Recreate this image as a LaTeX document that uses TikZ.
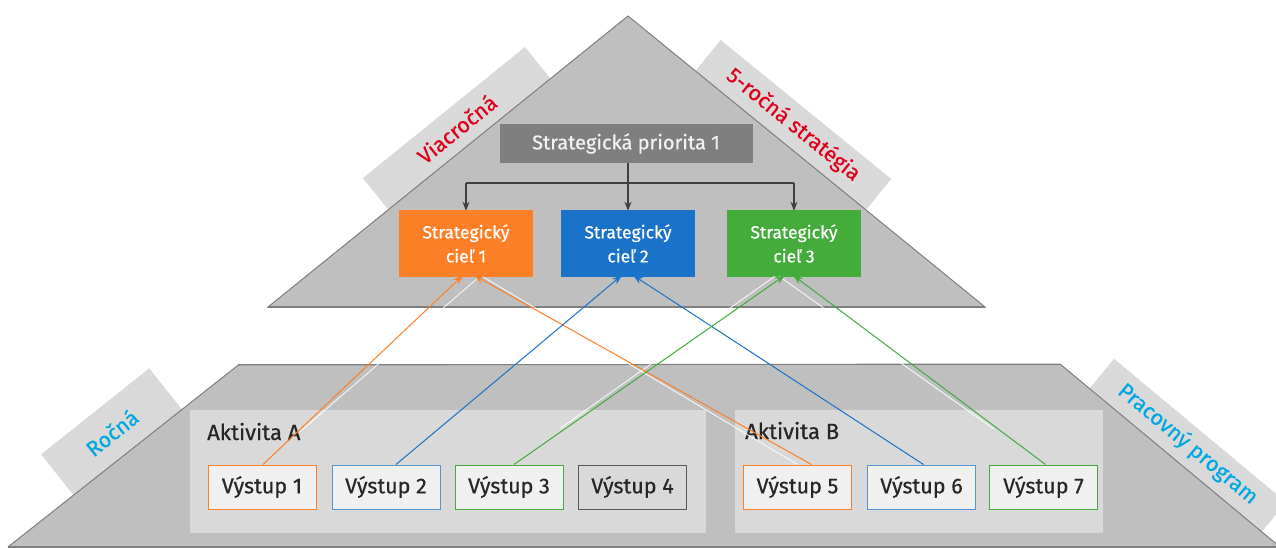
\documentclass[tikz,border=0pt]{standalone}
\usepackage{fontspec}
\setmainfont{Fira Sans}[FakeBold=0.5]
\usetikzlibrary{arrows.meta,calc}
\definecolor{trifill}{HTML}{BFBFBF}
\definecolor{edgegray}{HTML}{7F7F7F}
\definecolor{bandgray}{HTML}{D9D9D9}
\definecolor{priofill}{HTML}{7F7F7F}
\definecolor{arrgray}{HTML}{404040}
\definecolor{gorange}{HTML}{FD7F27}
\definecolor{gblue}{HTML}{1A73C8}
\definecolor{ggreen}{HTML}{43AC3A}
\definecolor{lred}{HTML}{E0001B}
\definecolor{lcyan}{HTML}{00A8E2}
\definecolor{txt}{HTML}{262626}
\definecolor{outfill}{HTML}{F0F0F0}
\definecolor{actfill}{HTML}{D9D9D9}
\definecolor{darkbox}{HTML}{595959}
\begin{document}
\begin{tikzpicture}[x=1pt,y=-1pt,
  bandshape/.style={fill=bandgray,draw=none},
  redlabel/.style={text=lred,font=\fontsize{21.5}{24}\selectfont,inner sep=0pt},
  cyanlabel/.style={text=lcyan,font=\fontsize{21.5}{24}\selectfont,inner sep=0pt},
  goal/.style={minimum width=134pt,minimum height=67pt,inner sep=0pt,text=white,align=center,font=\fontsize{17.5}{24}\selectfont},
  outbox/.style={draw,line width=1pt,fill=outfill,minimum width=108pt,minimum height=44pt,inner sep=0pt,text=txt,font=\fontsize{21.5}{24}\selectfont},
  actbox/.style={fill=actfill,inner sep=0pt,draw=none},
  acttext/.style={text=txt,font=\fontsize{22}{24}\selectfont,inner sep=0pt},
  conn/.style={line width=1pt,-{Stealth[length=10pt,width=7pt]}},
  ghost/.style={draw=white,line width=1pt,opacity=0.8},
  treearr/.style={draw=arrgray,line width=1.2pt,-{Stealth[length=9pt,width=7pt]}}
]
\useasboundingbox (0,0) rectangle (1276,548);
\fill[white] (0,0) rectangle (1276,548);

% bands behind the triangle
\fill[bandshape] (362.9,178.1) -- (525,47) -- (553.6,82.5) -- (391.5,213.6) -- cycle;
\fill[bandshape] (720.7,40) -- (891.2,179) -- (862.7,213.9) -- (692.2,74.9) -- cycle;

% triangle
\draw[fill=trifill,draw=edgegray,line width=1pt,line join=miter] (628,16) -- (985,307) -- (268,307) -- cycle;
\draw[edgegray,line width=1.6pt] (268,307) -- (985,307);

% bands behind the trapezoid
\fill[bandshape] (149.2,368.3) -- (41.1,454.4) -- (77.2,499.7) -- (185.3,413.6) -- cycle;
\fill[bandshape] (1114.1,358.9) -- (1286.3,502.4) -- (1258.8,535.4) -- (1086.6,391.9) -- cycle;

% trapezoid
\fill[trifill] (238.3,365) -- (1060,364) -- (1280,547) -- (8,547) -- cycle;
\draw[edgegray,line width=1pt] (8,547) -- (238.3,365) -- (1060,364) -- (1280,547);
\draw[edgegray,line width=1.6pt] (238.3,364.5) -- (1060,364.5);
\draw[edgegray,line width=1.2pt] (8,547) -- (1280,547);

% rotated labels
\node[redlabel,rotate=39] (lv) at (456.7,128.7) {Viacročná};
\node[redlabel,rotate=-39] (l5) at (793.3,125) {5-ročná stratégia};
\node[cyanlabel,rotate=38.5] (lr) at (111.8,432.5) {Ročná};
\node[cyanlabel,rotate=-39.8] (lp) at (1187.8,444.2) {Pracovný program};

% strategic priority and goals
\node[fill=priofill,minimum width=253pt,minimum height=39pt,inner sep=0pt,text=white!95!black,font=\fontsize{20}{22}\selectfont] (prio) at (626,143.5) {Strategická priorita 1};
\node[goal,fill=gorange] (c1) at (466,243.5) {Strategický\\cieľ 1};
\node[goal,fill=gblue] (c2) at (628,243.5) {Strategický\\cieľ 2};
\node[goal,fill=ggreen] (c3) at (794,243.5) {Strategický\\cieľ 3};

\coordinate (hub) at (628,183);
\draw[arrgray,line width=1.2pt] (prio.south -| c2.north) -- (hub -| c2.north);
\draw[arrgray,line width=1.2pt] (hub -| c1.north) -- (hub -| c3.north);
\draw[treearr] (hub -| c1.north) -- ([yshift=-1pt]c1.north);
\draw[treearr] (hub -| c2.north) -- ([yshift=-1pt]c2.north);
\draw[treearr] (hub -| c3.north) -- ([yshift=-1pt]c3.north);

% activities
\node[actbox,minimum width=516pt,minimum height=123pt] (actA) at (448,471.5) {};
\node[actbox,minimum width=368pt,minimum height=123pt] (actB) at (919,471.5) {};
\node[acttext,anchor=base west] (tA) at (207,440) {Aktivita A};
\node[acttext,anchor=base west] (tB) at (745,439) {Aktivita B};

% outputs
\node[outbox,draw=gorange] (v1) at (262,487) {Výstup 1};
\node[outbox,draw=gblue!75] (v2) at (386,487) {Výstup 2};
\node[outbox,draw=ggreen] (v3) at (509,487) {Výstup 3};
\node[outbox,draw=darkbox,fill=actfill] (v4) at (632.5,487) {Výstup 4};
\node[outbox,draw=gorange] (v5) at (797.5,487) {Výstup 5};
\node[outbox,draw=gblue!75] (v6) at (921.5,487) {Výstup 6};
\node[outbox,draw=ggreen] (v7) at (1043.5,487) {Výstup 7};

% ghost (white) connectors
\draw[ghost,shorten <=50pt] (v1.north) -- ([xshift=14pt,yshift=1pt]c1.south);
\draw[ghost] (v5.north) -- ([xshift=16pt,yshift=1pt]c1.south);
\draw[ghost,shorten <=62pt] (v3.north) -- ([xshift=-19pt,yshift=1pt]c3.south);
\draw[ghost,shorten <=61pt] (v7.north) -- ([xshift=-15pt,yshift=1pt]c3.south);

% connectors
\draw[conn,gorange] ([xshift=1pt]v1.north) -- ([xshift=-3pt,yshift=2pt]c1.south);
\draw[conn,gorange] ([xshift=14pt]v5.north) -- ([xshift=8pt,yshift=2pt]c1.south);
\draw[conn,gblue] ([xshift=10pt]v2.north) -- ([xshift=-6pt,yshift=2pt]c2.south);
\draw[conn,gblue] ([xshift=2pt]v6.north) -- ([xshift=5pt,yshift=2pt]c2.south);
\draw[conn,ggreen] ([xshift=5pt]v3.north) -- ([xshift=-9pt,yshift=2pt]c3.south);
\draw[conn,ggreen] ([xshift=2pt]v7.north) -- ([xshift=-1pt,yshift=2pt]c3.south);
\end{tikzpicture}
\end{document}
